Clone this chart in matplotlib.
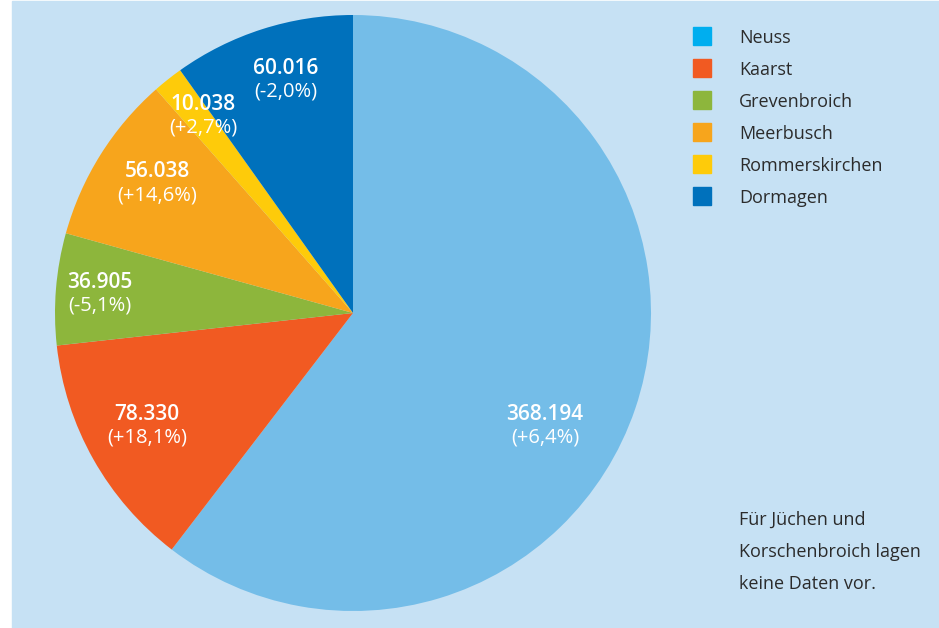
import matplotlib
matplotlib.use("Agg")
import matplotlib.pyplot as plt
from matplotlib.patches import Rectangle

# Daten
staedte = ["Neuss", "Kaarst", "Grevenbroich", "Meerbusch", "Rommerskirchen", "Dormagen"]
werte = [368194, 78330, 36905, 56038, 10038, 60016]
werte_text = ["368.194", "78.330", "36.905", "56.038", "10.038", "60.016"]
aenderung = ["(+6,4%)", "(+18,1%)", "(-5,1%)", "(+14,6%)", "(+2,7%)", "(-2,0%)"]

farben_torte = ["#74bde8", "#f15a22", "#8db63c", "#f7a51c", "#fecb0a", "#0071bc"]
farben_legende = ["#00aeef", "#f15a22", "#8db63c", "#f7a51c", "#fecb0a", "#0071bc"]

# Positionen der Beschriftungen (Pixel, Mitte der Zahl)
label_pos = [(545, 414), (147, 414), (100, 282), (157, 172), (203, 104), (286, 68)]

plt.rcParams["font.family"] = ["Open Sans", "DejaVu Sans"]

W, H = 939, 628
fig = plt.figure(figsize=(W / 100, H / 100), dpi=100)
fig.patch.set_facecolor("white")

# Hintergrund
fig.patches.append(Rectangle((12 / W, 0), 1 - 12 / W, 1 - 1 / H,
                             transform=fig.transFigure, color="#c6e1f4", zorder=-10))

# Tortendiagramm
cx, cy, r = 353, 313, 298
ax = fig.add_axes([(cx - r) / W, (H - cy - r) / H, 2 * r / W, 2 * r / H])
ax.patch.set_alpha(0)
ax.pie(werte, colors=farben_torte, startangle=90, counterclock=False,
       radius=1, wedgeprops=dict(linewidth=0))
ax.set_xlim(-1, 1)
ax.set_ylim(-1, 1)
ax.set_aspect("equal")
ax.axis("off")

for (px, py), zahl, proz in zip(label_pos, werte_text, aenderung):
    fig.text(px / W, 1 - py / H, zahl, color="white", fontsize=15,
             fontweight="semibold", ha="center", va="center")
    fig.text(px / W, 1 - (py + 24) / H, proz, color="white", fontsize=14.5,
             ha="center", va="center")

# Legende
for i, (name, farbe) in enumerate(zip(staedte, farben_legende)):
    y = 36 + i * 32
    fig.patches.append(Rectangle((693 / W, 1 - (y + 9) / H), 18 / W, 18 / H,
                                 transform=fig.transFigure, color=farbe, zorder=2))
    fig.text(739 / W, 1 - (y + 2) / H, name, color="#2b2b2b", fontsize=13,
             ha="left", va="center")

# Hinweis
hinweis = ["Für Jüchen und", "Korschenbroich lagen", "keine Daten vor."]
for i, zeile in enumerate(hinweis):
    fig.text(739 / W, 1 - (520 + i * 32) / H, zeile, color="#2b2b2b",
             fontsize=13, ha="left", va="center")

fig.savefig("out.png", dpi=100, facecolor=fig.get_facecolor())
